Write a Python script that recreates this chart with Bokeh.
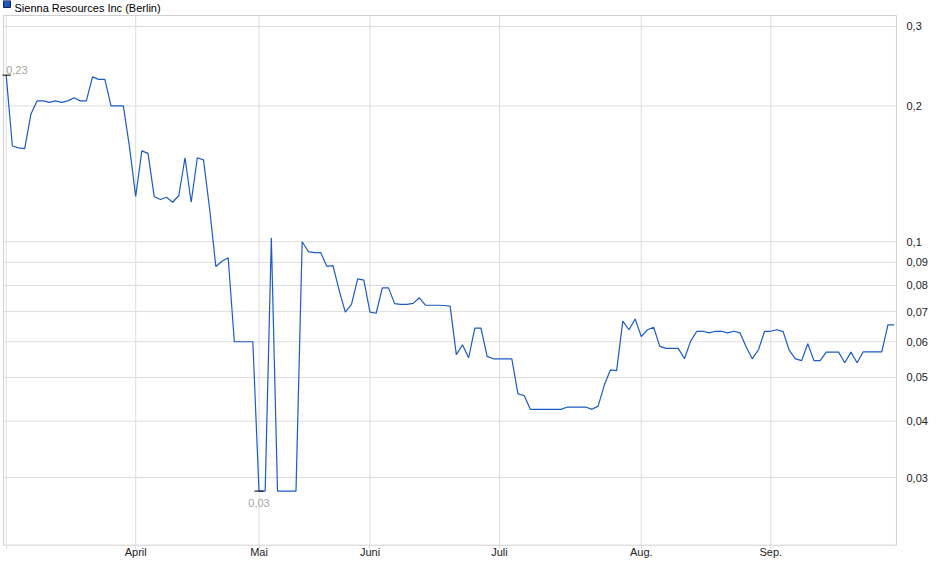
import numpy as np
from bokeh.plotting import figure
from bokeh.models import (FixedTicker, CustomJSTickFormatter, Range1d, Label,
                          BoxAnnotation)
from bokeh.core.properties import value
from bokeh.embed import file_html
from bokeh.resources import INLINE

# ---------------- data ----------------
series_name = "Sienna Resources Inc (Berlin)"

prices = [
    0.234, 0.163, 0.1615, 0.1608, 0.1916, 0.2052, 0.2052, 0.2036, 0.2052, 0.2036,
    0.2052, 0.2085, 0.2052, 0.2052, 0.232, 0.229, 0.229, 0.2, 0.2, 0.2,
    0.162, 0.126, 0.159, 0.157, 0.126, 0.124, 0.1255, 0.1223, 0.1266, 0.1535,
    0.1223, 0.1535, 0.1519, 0.118, 0.0881, 0.0905, 0.0921, 0.06, 0.06, 0.06,
    0.06, 0.028, 0.028, 0.102, 0.028, 0.028, 0.028, 0.028, 0.1, 0.0951,
    0.0946, 0.0946, 0.0882, 0.0885, 0.078, 0.0698, 0.0726, 0.0827, 0.0822, 0.0698,
    0.0694, 0.079, 0.079, 0.0729, 0.0726, 0.0726, 0.073, 0.0751, 0.0723, 0.0723,
    0.0723, 0.0722, 0.072, 0.0562, 0.0591, 0.0553, 0.0643, 0.0643, 0.0557, 0.055,
    0.055, 0.055, 0.055, 0.046, 0.0456, 0.0425, 0.0425, 0.0425, 0.0425, 0.0425,
    0.0425, 0.043, 0.043, 0.043, 0.043, 0.0425, 0.0432, 0.0481, 0.052, 0.0518,
    0.0667, 0.0638, 0.0674, 0.0616, 0.0638, 0.0646, 0.0586, 0.058, 0.058, 0.058,
    0.055, 0.0602, 0.0633, 0.0633, 0.0628, 0.0633, 0.0633, 0.0628, 0.0633, 0.0628,
    0.0585, 0.055, 0.0576, 0.0633, 0.0633, 0.0638, 0.0632, 0.0574, 0.055, 0.0545,
    0.0594, 0.0545, 0.0545, 0.0569, 0.0569, 0.0569, 0.0539, 0.0569, 0.0539, 0.057,
    0.057, 0.057, 0.057, 0.0654, 0.0654,
]
days = list(range(len(prices)))          # trading-day index

month_ticks = [0, 21, 41, 59, 80, 103, 124]
month_labels = ["", "April", "Mai", "Juni", "Juli", "Aug.", "Sep."]

price_ticks = [0.03, 0.04, 0.05, 0.06, 0.07, 0.08, 0.09, 0.1, 0.2, 0.3]

# ---------------- styling ----------------
FONT = "Liberation Sans"
LINE_BLUE = "#1c5bc4"
GRID = "#dddddd"
BORDER = "#d0d0d0"
NOTE_GREY = "#aaa49e"

# visible chart box (in axis units); the drawing frame is a bit larger so the
# legend row above the box can be drawn as well
X_LO, X_HI = -0.437, 144.38
Y_LO, Y_HI = 0.02124, 0.3173


def fmt(v):
    return f"{v:.2f}".replace(".", ",")


p = figure(width=930, height=570,
           x_range=Range1d(-0.5987, 144.55),
           y_range=Range1d(0.021099, 0.34257),
           y_axis_type="log", y_axis_location="right",
           output_backend="svg", toolbar_location=None, title=None,
           min_border_left=2, min_border_right=31,
           min_border_top=0, min_border_bottom=24,
           margin=(0, 0, 0, 0))

p.background_fill_color = "white"
p.border_fill_color = "white"
p.outline_line_color = None
p.xgrid.visible = False
p.ygrid.visible = False

# grid lines (drawn inside the chart box only)
p.segment(x0=month_ticks, x1=month_ticks,
          y0=[Y_LO] * len(month_ticks), y1=[Y_HI] * len(month_ticks),
          line_color=GRID, line_width=1)
p.segment(x0=[X_LO] * len(price_ticks), x1=[X_HI] * len(price_ticks),
          y0=price_ticks, y1=price_ticks,
          line_color=GRID, line_width=1)

# chart box border
p.segment(x0=[X_LO, X_HI, X_LO, X_LO], x1=[X_LO, X_HI, X_HI, X_HI],
          y0=[Y_LO, Y_LO, Y_HI, Y_LO], y1=[Y_HI, Y_HI, Y_HI, Y_LO],
          line_color=BORDER, line_width=1)

# price line
p.line(days, prices, line_color=LINE_BLUE, line_width=1.2)

# high / low markers
arr = np.array(prices)
i_max = int(np.argmax(arr))
i_min = int(np.argmin(arr))
p.segment(x0=[i_max - 0.75, i_min - 0.75], y0=[arr[i_max], arr[i_min]],
          x1=[i_max + 0.75, i_min + 0.75], y1=[arr[i_max], arr[i_min]],
          line_color="black", line_width=1)
p.text(x=[i_max], y=[arr[i_max]], text=[fmt(arr[i_max])],
       text_align="left", text_baseline="alphabetic", y_offset=-5,
       text_font=value(FONT), text_font_size="11px", text_color=NOTE_GREY)
p.text(x=[i_min], y=[arr[i_min]], text=[fmt(arr[i_min])],
       text_align="center", text_baseline="alphabetic", y_offset=12,
       text_font=value(FONT), text_font_size="11px", text_color=NOTE_GREY)

# legend (swatch + name) above the chart box, in frame screen units
swatch = BoxAnnotation(left=1, right=8, bottom=539, top=546,
                       left_units="screen", right_units="screen",
                       bottom_units="screen", top_units="screen",
                       fill_color="#1d57be", fill_alpha=1,
                       line_color="#10244f", line_width=1, line_alpha=1)
p.add_layout(swatch)
p.add_layout(Label(x=12, y=539, x_units="screen", y_units="screen",
                   text=series_name, text_baseline="alphabetic",
                   text_align="left", text_font=FONT,
                   text_font_size="11px", text_color="#000000"))

# x axis (months)
p.xaxis.ticker = FixedTicker(ticks=month_ticks)
p.xaxis.major_label_overrides = dict(zip(month_ticks, month_labels))
p.xaxis.axis_line_color = None
p.xaxis.major_tick_in = 0
p.xaxis.major_tick_out = 2
p.xaxis.major_tick_line_color = BORDER
p.xaxis.minor_tick_line_color = None
p.xaxis.major_label_standoff = -3

# y axis (log, right side)
p.yaxis.ticker = FixedTicker(ticks=price_ticks)
p.yaxis.formatter = CustomJSTickFormatter(code="return tick.toString().replace('.', ',');")
p.yaxis.axis_line_color = None
p.yaxis.major_tick_line_color = None
p.yaxis.minor_tick_line_color = None
p.yaxis.major_label_standoff = 3

for ax in (p.xaxis, p.yaxis):
    ax.major_label_text_font = FONT
    ax.major_label_text_font_size = "11px"
    ax.major_label_text_color = "#222222"

open("out.html", "w").write(file_html(p, INLINE))
